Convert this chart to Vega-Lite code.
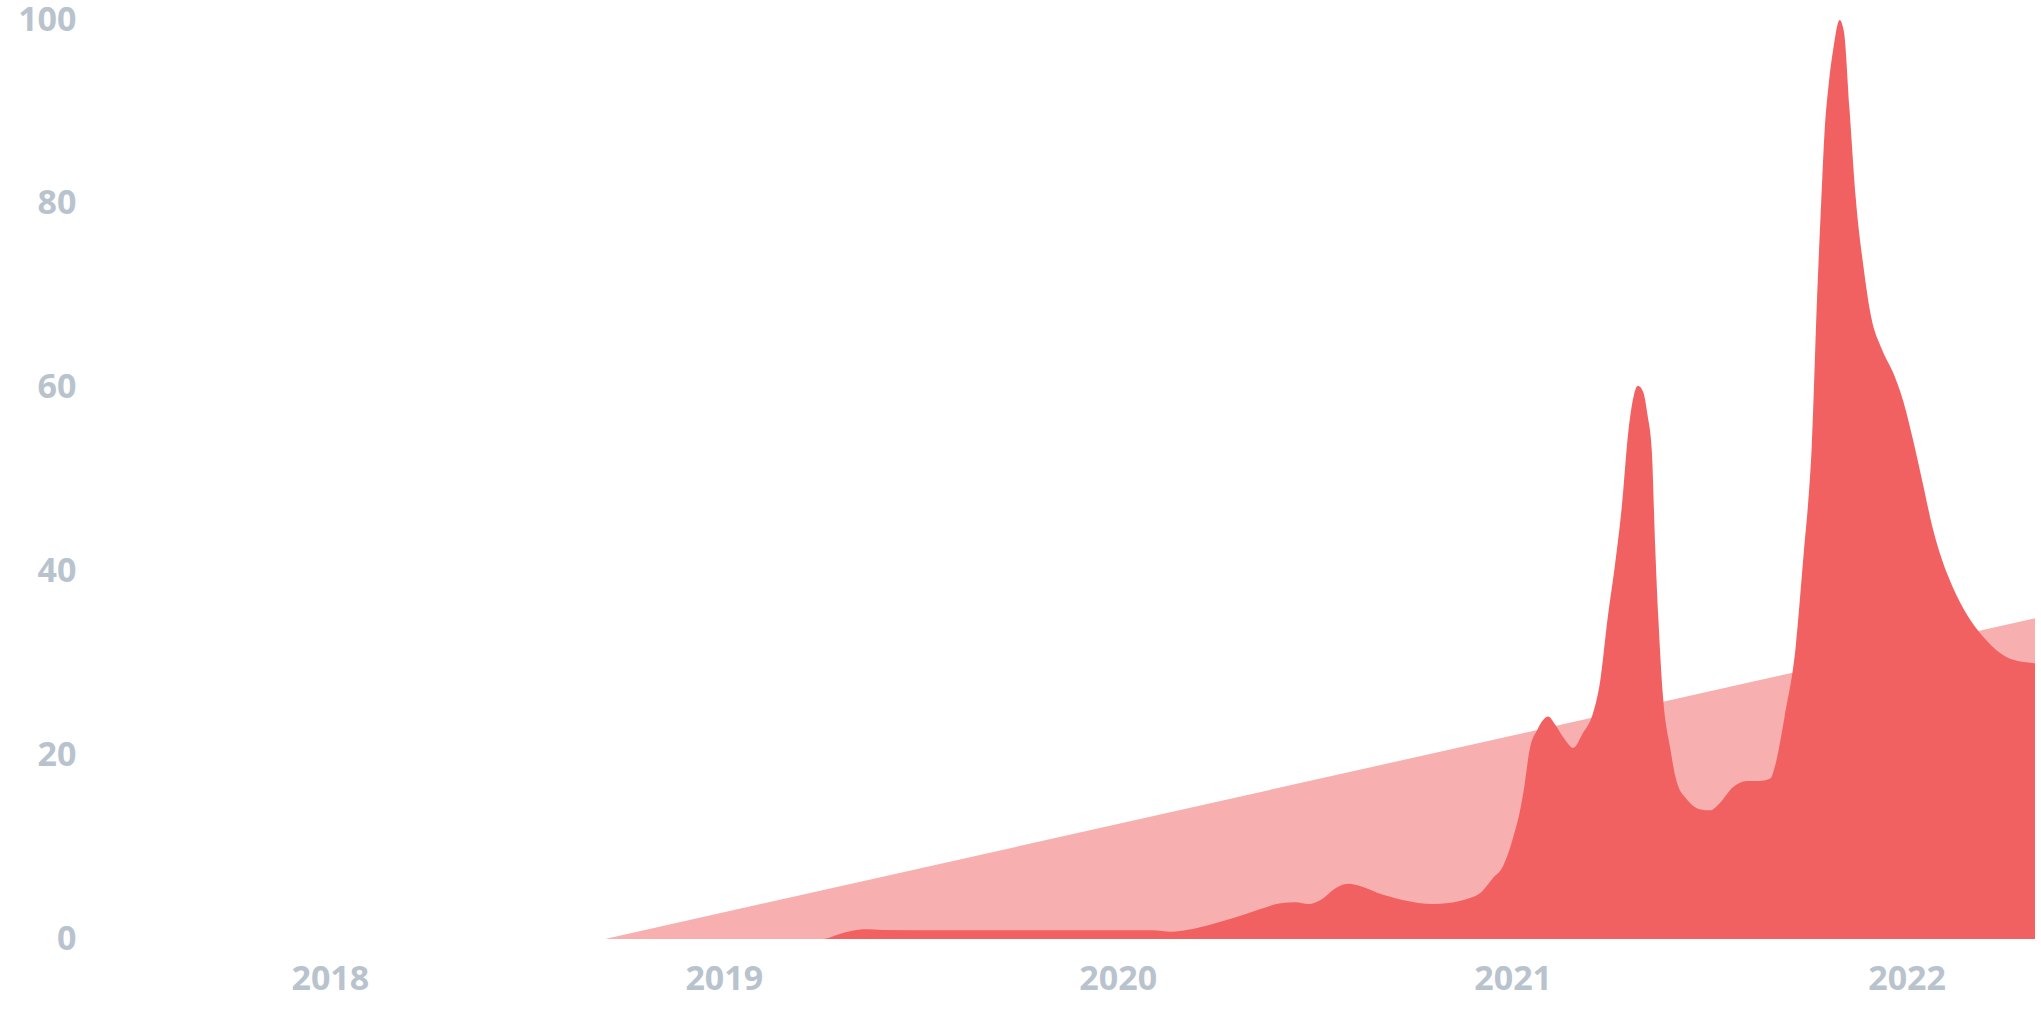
{
  "$schema": "https://vega.github.io/schema/vega-lite/v6.json",
  "autosize": {"type": "none"},
  "width": 1935,
  "height": 919,
  "padding": {"left": 100, "top": 20, "right": 6, "bottom": 81},
  "background": "#ffffff",
  "config": {"view": {"stroke": null}},
  "datasets": {
    "trend": [
      {"date": "2017-06-02", "value": 0},
      {"date": "2018-09-13", "value": 0},
      {"date": "2022-04-30", "value": 34.9}
    ],
    "interest": [
      {"date": "2017-06-02", "value": 0},
      {"date": "2019-04-03", "value": 0},
      {"date": "2019-04-17", "value": 0.5},
      {"date": "2019-04-29", "value": 0.87},
      {"date": "2019-05-13", "value": 1.05},
      {"date": "2019-05-28", "value": 0.98},
      {"date": "2019-07-31", "value": 0.95},
      {"date": "2019-11-04", "value": 0.95},
      {"date": "2020-02-02", "value": 0.95},
      {"date": "2020-02-20", "value": 0.8},
      {"date": "2020-03-06", "value": 1.0},
      {"date": "2020-03-25", "value": 1.5},
      {"date": "2020-04-18", "value": 2.3},
      {"date": "2020-05-11", "value": 3.2},
      {"date": "2020-05-31", "value": 3.9},
      {"date": "2020-06-14", "value": 4.0},
      {"date": "2020-06-26", "value": 3.8},
      {"date": "2020-07-07", "value": 4.25},
      {"date": "2020-07-22", "value": 5.6},
      {"date": "2020-08-02", "value": 6.0},
      {"date": "2020-08-14", "value": 5.7},
      {"date": "2020-08-29", "value": 5.0},
      {"date": "2020-09-21", "value": 4.25},
      {"date": "2020-10-20", "value": 3.8},
      {"date": "2020-11-12", "value": 4.1},
      {"date": "2020-11-21", "value": 4.4},
      {"date": "2020-12-02", "value": 5.0},
      {"date": "2020-12-15", "value": 6.8},
      {"date": "2020-12-21", "value": 7.5},
      {"date": "2020-12-29", "value": 9.7},
      {"date": "2021-01-02", "value": 11.3},
      {"date": "2021-01-07", "value": 13.5},
      {"date": "2021-01-11", "value": 16.0},
      {"date": "2021-01-17", "value": 20.75},
      {"date": "2021-01-24", "value": 22.8},
      {"date": "2021-01-29", "value": 23.8},
      {"date": "2021-02-03", "value": 24.2},
      {"date": "2021-02-09", "value": 23.4},
      {"date": "2021-02-19", "value": 21.6},
      {"date": "2021-02-26", "value": 20.8},
      {"date": "2021-03-07", "value": 22.4},
      {"date": "2021-03-16", "value": 24.4},
      {"date": "2021-03-23", "value": 28},
      {"date": "2021-03-30", "value": 34.9},
      {"date": "2021-04-06", "value": 40.9},
      {"date": "2021-04-12", "value": 46.9},
      {"date": "2021-04-18", "value": 55},
      {"date": "2021-04-23", "value": 59},
      {"date": "2021-04-27", "value": 60.2},
      {"date": "2021-05-02", "value": 59.5},
      {"date": "2021-05-06", "value": 57},
      {"date": "2021-05-10", "value": 53},
      {"date": "2021-05-13", "value": 42.9},
      {"date": "2021-05-16", "value": 34.9},
      {"date": "2021-05-20", "value": 26.8},
      {"date": "2021-05-27", "value": 20.75},
      {"date": "2021-06-02", "value": 17.1},
      {"date": "2021-06-12", "value": 15.1},
      {"date": "2021-06-24", "value": 14.1},
      {"date": "2021-07-03", "value": 14.0},
      {"date": "2021-07-12", "value": 14.8},
      {"date": "2021-07-24", "value": 16.5},
      {"date": "2021-08-06", "value": 17.2},
      {"date": "2021-08-18", "value": 17.2},
      {"date": "2021-08-28", "value": 17.5},
      {"date": "2021-09-01", "value": 18.8},
      {"date": "2021-09-10", "value": 24.2},
      {"date": "2021-09-20", "value": 31.5},
      {"date": "2021-09-28", "value": 42.4},
      {"date": "2021-10-02", "value": 47.8},
      {"date": "2021-10-05", "value": 53.3},
      {"date": "2021-10-10", "value": 69.6},
      {"date": "2021-10-14", "value": 80.5},
      {"date": "2021-10-17", "value": 87.8},
      {"date": "2021-10-21", "value": 93.2},
      {"date": "2021-10-25", "value": 96.8},
      {"date": "2021-10-31", "value": 100},
      {"date": "2021-11-04", "value": 98.7},
      {"date": "2021-11-09", "value": 90.5},
      {"date": "2021-11-15", "value": 80.5},
      {"date": "2021-11-22", "value": 73.2},
      {"date": "2021-11-29", "value": 67.8},
      {"date": "2021-12-09", "value": 64.2},
      {"date": "2021-12-20", "value": 61.5},
      {"date": "2021-12-29", "value": 58.5},
      {"date": "2022-01-07", "value": 54.3},
      {"date": "2022-01-16", "value": 49.6},
      {"date": "2022-01-25", "value": 44.8},
      {"date": "2022-02-03", "value": 41.2},
      {"date": "2022-02-12", "value": 38.5},
      {"date": "2022-02-27", "value": 35.1},
      {"date": "2022-03-13", "value": 32.9},
      {"date": "2022-03-29", "value": 31.1},
      {"date": "2022-04-09", "value": 30.4},
      {"date": "2022-04-30", "value": 30.0}
    ]
  },
  "encoding": {
    "x": {
      "field": "date",
      "type": "temporal",
      "scale": {"domain": ["2017-06-02", "2022-04-30"], "nice": false},
      "axis": {
        "title": null,
        "domain": false,
        "ticks": false,
        "tickSize": 0,
        "grid": false,
        "format": "%Y",
        "tickCount": {"interval": "year", "step": 1},
        "labelFont": "Open Sans",
        "labelFontWeight": "bold",
        "labelFontSize": 34,
        "labelColor": "#b8c3ce",
        "labelPadding": 23,
        "labelFlush": false
      }
    },
    "y": {
      "field": "value",
      "type": "quantitative",
      "scale": {"domain": [0, 100], "nice": false},
      "axis": {
        "title": null,
        "domain": false,
        "ticks": false,
        "tickSize": 0,
        "grid": false,
        "values": [0, 20, 40, 60, 80, 100],
        "labelFont": "Open Sans",
        "labelFontWeight": "bold",
        "labelFontSize": 34,
        "labelColor": "#b8c3ce",
        "labelPadding": 24,
        "labelOffset": 0,
        "labelFlush": false
      }
    }
  },
  "layer": [
    {
      "data": {"name": "trend"},
      "mark": {"type": "area", "color": "#f8afaf", "interpolate": "linear"}
    },
    {
      "data": {"name": "interest"},
      "mark": {"type": "area", "color": "#f26161", "interpolate": "monotone"}
    }
  ]
}
